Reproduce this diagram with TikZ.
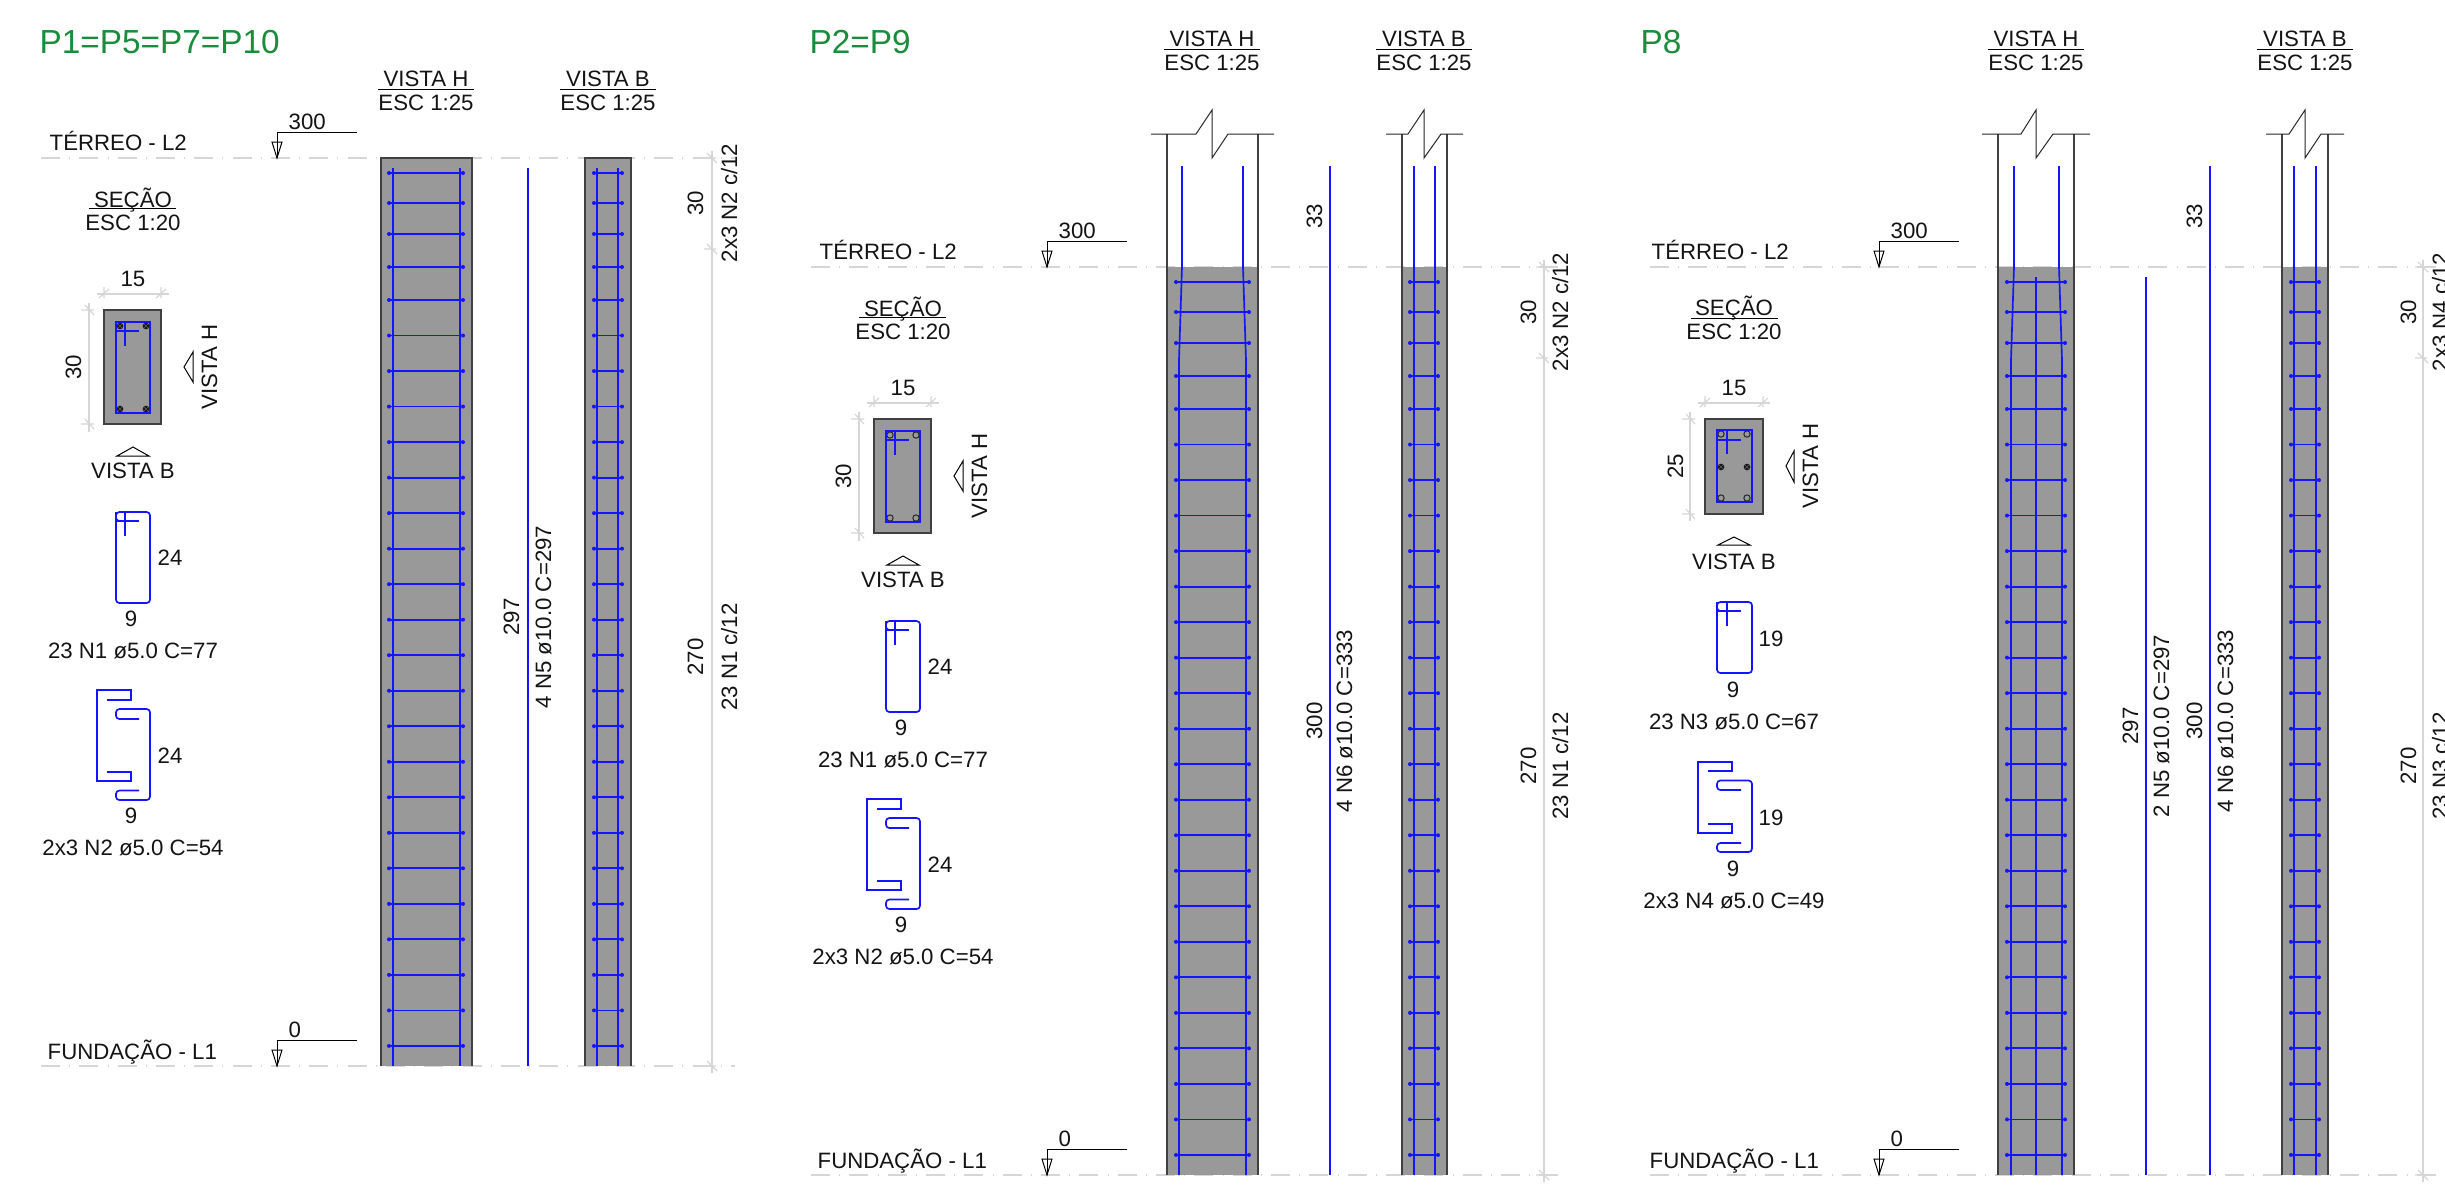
\documentclass[tikz,border=0pt]{standalone}
\usepackage{fontspec}
\setmainfont{Liberation Sans}
\newcommand{\lbfont}{\fontsize{6.67}{8}\selectfont}
\newcommand{\ttfontp}{\fontsize{10}{12}\selectfont}
\definecolor{conc}{HTML}{999999}
\definecolor{rebarblue}{HTML}{1414FF}
\definecolor{titlegreen}{HTML}{1A8C3C}
\definecolor{dimgray}{HTML}{D6D6D6}
\definecolor{edgegray}{HTML}{404040}
\tikzset{
  lbl/.style={anchor=base,inner sep=0pt,font=\lbfont,text=black!92},
  lblw/.style={anchor=base west,inner sep=0pt,font=\lbfont,text=black!92},
  vlbl/.style={anchor=base,inner sep=0pt,font=\lbfont,rotate=90,text=black!92},
  ptitle/.style={anchor=base west,inner sep=0pt,font=\ttfontp,text=titlegreen},
  rebar/.style={draw=rebarblue,line width=0.5pt},
  rebarthin/.style={draw=rebarblue,line width=0.42pt},
  stirr/.style={draw=rebarblue,line width=0.55pt},
  shapebar/.style={draw=rebarblue,line width=0.5pt},
  edge/.style={draw=edgegray,line width=0.42pt},
  thinblk/.style={draw=black,line width=0.3pt},
  dimln/.style={draw=dimgray,line width=0.35pt},
  levelln/.style={draw=dimgray,line width=0.4pt,dash pattern=on 5.7pt off 2.75pt on 0.3pt off 2.75pt},
}
\newcommand{\TickV}[2]{\draw[dimln] (#1-8,#2)--(#1+5,#2) (#1-4,#2-5)--(#1+5,#2+5);}
\newcommand{\TickH}[2]{\draw[dimln] (#1,#2-7)--(#1,#2+4) (#1-5,#2+4)--(#1+5,#2-5);}
\newcommand{\TickS}[2]{\draw[dimln] (#1-8,#2)--(#1+4,#2) (#1-5,#2-5)--(#1+5,#2+5);}
\newcommand{\Stirrups}[2]{%
  \foreach \yy in {173,203,234,267}{\draw[stirr] (#1,\yy)--(#2,\yy);
    \fill[rebarblue] (#1,\yy) circle (0.6pt) (#2,\yy) circle (0.6pt);}
  \foreach \k in {0,...,21}{\pgfmathsetmacro\yy{300+35.52*\k}
    \draw[stirr] (#1,\yy)--(#2,\yy);
    \fill[rebarblue] (#1,\yy) circle (0.6pt) (#2,\yy) circle (0.6pt);}}
\newcommand{\LevelMark}[3]{%
  \draw[thinblk,fill=white] (#1-5,#3+10)--(#1+5,#3+10)--(#1,#2)--cycle;
  \draw[thinblk] (#1,#2)--(#1,#3)--(#1+80,#3);}
\newcommand{\OpenBar}[2]{\draw[black!85,line width=0.3pt] (#1,#2) circle (0.95pt);}
\newcommand{\HatchBar}[2]{%
  \fill[black!90] (#1,#2) circle (1pt);
  \draw[black!45,line width=0.08pt] (#1-2,#2-2)--(#1+2,#2+2) (#1-2,#2+2)--(#1+2,#2-2);}
\newcommand{\BlockA}[1]{%
  \node[lbl] (secT) at (133,207) {SEÇÃO};
  \draw[thinblk] (89,208.5)--(176,208.5);
  \node[lbl] (secE) at (133,230) {ESC 1:20};
  \node[lbl] (w15) at (133,286) {15};
  \draw[dimln] (97,294)--(169,294); \TickH{104}{294}\TickH{161}{294}
  \node[vlbl] (h30) at (81,367) {30};
  \draw[dimln] (89,303)--(89,432); \TickV{89}{310}\TickV{89}{424}
  \draw[edge,fill=conc] (104,310) rectangle (161,424);
  #1
  \draw[rebarblue,line width=0.42pt] (116,322) rectangle (150,413) (116,331)--(139,331) (125,322)--(125,346);
  \node[vlbl] (vh) at (217,367) {VISTA H};
  \draw[thinblk] (193,352)--(184,367)--(193,382)--cycle;
  \draw[thinblk] (117,456)--(133,447)--(149,456)--cycle;
  \node[lbl] (vb) at (133,478) {VISTA B};
  \draw[shapebar] (125,536)--(125,512) (116,521)--(139,521);
  \draw[shapebar,rounded corners=1pt] (116,512) rectangle (150,603);
  \draw[shapebar,rounded corners=1pt] (116,512)--(116,521)--(125,521);
  \node[lblw] (d24a) at (157,565) {24};
  \node[lbl] (d9a) at (131,626) {9};
  \node[lbl] (n1) at (133,658) {23 N1 ø5.0 C=77};
  \draw[shapebar] (107,700)--(131,700)--(131,690)--(97,690)--(97,781)--(131,781)--(131,772)--(107,772);
  \draw[shapebar,rounded corners=1pt] (139,719)--(116,719)--(116,709)--(150,709)--(150,800)--(116,800)--(116,790.5)--(139,790.5);
  \node[lblw] (d24b) at (157,763) {24};
  \node[lbl] (d9b) at (131,823) {9};
  \node[lbl] (n2) at (133,855) {2x3 N2 ø5.0 C=54};
}
\newcommand{\LevelLabels}{%
  \node[lblw] (terreo) at (49,150) {TÉRREO - L2};
  \node[lblw] (l300) at (288,129) {300};
  \node[lblw] (fund) at (47,1059) {FUNDAÇÃO - L1};
  \node[lblw] (l0) at (288,1037) {0};
  \LevelMark{277}{158}{132}
  \LevelMark{277}{1066}{1040}
}
\newcommand{\ViewTitle}[4]{%
  \node[lbl] (#3a) at (#1,#2) {#4};
  \draw[thinblk] (#1-48,#2+3)--(#1+48,#2+3);
  \node[lbl] (#3b) at (#1,#2+24) {ESC 1:25};}
\newcommand{\BreakLine}[5]{%
  \draw[draw=black!85,line width=0.3pt] (#1,134)--(#2,134)--(#3,110)--(#3,158)--(#4,134)--(#5,134);}
\begin{document}
\begin{tikzpicture}[x=0.3pt,y=-0.3pt]
\useasboundingbox (0,0) rectangle (2445,1185);
\fill[white] (0,0) rectangle (2445,1185);

\draw[levelln] (41,158)--(735,158);
\draw[levelln] (41,1066)--(735,1066);
\draw[levelln] (811,267)--(1565,267);
\draw[levelln] (811,1175)--(1567,1175);
\draw[levelln] (1650,267)--(2445,267);
\draw[levelln] (1650,1175)--(2445,1175);

\node[ptitle] (t1) at (39,53) {P1=P5=P7=P10};
\begin{scope}[name prefix=a-]
\LevelLabels
\BlockA{\HatchBar{120}{326}\HatchBar{146}{326}\HatchBar{120}{409}\HatchBar{146}{409}}
\ViewTitle{426}{86}{vh}{VISTA H}
\ViewTitle{608}{86}{vb}{VISTA B}
\fill[conc] (381,158) rectangle (472,1066);
\draw[edge] (381,1066)--(381,158)--(472,158)--(472,1066);
\draw[rebar] (393,168)--(393,1066) (460,168)--(460,1066);
\Stirrups{389}{463}
\fill[conc] (585,158) rectangle (631,1066);
\draw[edge] (585,1066)--(585,158)--(631,158)--(631,1066);
\draw[rebar] (597,168)--(597,1066) (618,168)--(618,1066);
\Stirrups{594}{622}
\draw[rebarthin] (528,168)--(528,1066);
\node[vlbl] (d297) at (519,617) {297};
\node[vlbl] (n5) at (551,617) {4 N5 ø10.0 C=297};
\draw[dimln] (712,151)--(712,1073);
\TickS{712}{158}\TickS{712}{249}\TickS{712}{1066}
\node[vlbl] (d30) at (703,203) {30};
\node[vlbl] (n2v) at (737,203) {2x3 N2 c/12};
\node[vlbl] (d270) at (703,657) {270};
\node[vlbl] (n1v) at (737,657) {23 N1 c/12};
\end{scope}

\node[ptitle] (t2) at (809,53) {P2=P9};
\begin{scope}[shift={(770,109)},name prefix=b-]
\LevelLabels
\BlockA{\OpenBar{120}{326}\OpenBar{146}{326}\OpenBar{120}{409}\OpenBar{146}{409}}
\end{scope}
\begin{scope}[name prefix=b-]
\ViewTitle{1212}{46}{vh}{VISTA H}
\ViewTitle{1424}{46}{vb}{VISTA B}
\fill[conc] (1167,267) rectangle (1258,1175);
\draw[edge] (1167,134)--(1167,1175) (1258,134)--(1258,1175);
\BreakLine{1151}{1196}{1212}{1228}{1274}
\draw[rebar] (1182,166)--(1182,267)--(1179,360)--(1179,1175) (1243,166)--(1243,267)--(1246,360)--(1246,1175);
\begin{scope}[shift={(0,109)}]\Stirrups{1176}{1249}\end{scope}
\fill[conc] (1402,267) rectangle (1447,1175);
\draw[edge] (1402,134)--(1402,1175) (1447,134)--(1447,1175);
\BreakLine{1386}{1408}{1424}{1441}{1463}
\draw[rebar] (1414,166)--(1414,1175) (1435,166)--(1435,1175);
\begin{scope}[shift={(0,109)}]\Stirrups{1410}{1438}\end{scope}
\draw[rebarthin] (1330,166)--(1330,1175);
\node[vlbl] (d33) at (1322,216) {33};
\node[vlbl] (d300) at (1322,721) {300};
\node[vlbl] (n6) at (1352,721) {4 N6 ø10.0 C=333};
\draw[dimln] (1544,260)--(1544,1182);
\TickS{1544}{267}\TickS{1544}{358}\TickS{1544}{1175}
\node[vlbl] (d30) at (1536,312) {30};
\node[vlbl] (n2v) at (1568,312) {2x3 N2 c/12};
\node[vlbl] (d270) at (1536,766) {270};
\node[vlbl] (n1v) at (1568,766) {23 N1 c/12};
\end{scope}

\node[ptitle] (t3) at (1640,53) {P8};
\begin{scope}[shift={(1602,109)},name prefix=c-]
\LevelLabels
\end{scope}
\begin{scope}[name prefix=c-]
\node[lbl] (secT) at (1734,315) {SEÇÃO};
\draw[thinblk] (1691,318)--(1778,318);
\node[lbl] (secE) at (1734,339) {ESC 1:20};
\node[lbl] (w15) at (1734,395) {15};
\draw[dimln] (1698,403)--(1770,403); \TickH{1705}{403}\TickH{1763}{403}
\node[vlbl] (h25) at (1683,466) {25};
\draw[dimln] (1690,412)--(1690,521); \TickV{1690}{419}\TickV{1690}{514}
\draw[edge,fill=conc] (1705,419) rectangle (1763,514);
\OpenBar{1721}{434}\OpenBar{1747}{434}\OpenBar{1721}{498}\OpenBar{1747}{498}
\HatchBar{1721}{467}\HatchBar{1747}{467}
\draw[rebarblue,line width=0.42pt] (1717,430) rectangle (1752,502) (1717,440)--(1741,440) (1727,430)--(1727,454);
\node[vlbl] (vh) at (1818,466) {VISTA H};
\draw[thinblk] (1794,451)--(1786,466)--(1794,482)--cycle;
\draw[thinblk] (1718,545)--(1734,537)--(1750,545)--cycle;
\node[lbl] (vb) at (1734,569) {VISTA B};
\draw[shapebar] (1727,626)--(1727,602) (1717,611)--(1741,611);
\draw[shapebar,rounded corners=1pt] (1717,602) rectangle (1752,673);
\draw[shapebar,rounded corners=1pt] (1717,602)--(1717,611)--(1727,611);
\node[lblw] (d19a) at (1758,646) {19};
\node[lbl] (d9a) at (1733,697) {9};
\node[lbl] (n3) at (1734,729) {23 N3 ø5.0 C=67};
\draw[shapebar] (1708,771)--(1732,771)--(1732,762)--(1698,762)--(1698,833)--(1732,833)--(1732,824)--(1708,824);
\draw[shapebar,rounded corners=1pt] (1741,790)--(1717,790)--(1717,780.5)--(1752,780.5)--(1752,852)--(1717,852)--(1717,843)--(1741,843);
\node[lblw] (d19b) at (1758,825) {19};
\node[lbl] (d9b) at (1733,876) {9};
\node[lbl] (n4) at (1734,908) {2x3 N4 ø5.0 C=49};
\ViewTitle{2036}{46}{vh}{VISTA H}
\ViewTitle{2305}{46}{vb}{VISTA B}
\fill[conc] (1998,267) rectangle (2074,1175);
\draw[edge] (1998,134)--(1998,1175) (2074,134)--(2074,1175);
\BreakLine{1982}{2021}{2036}{2053}{2090}
\draw[rebar] (2014,166)--(2014,267)--(2011,360)--(2011,1175) (2059,166)--(2059,267)--(2062,360)--(2062,1175);
\draw[rebarthin] (2036,277)--(2036,1175);
\begin{scope}[shift={(0,109)}]\Stirrups{2007}{2065}\end{scope}
\fill[conc] (2282,267) rectangle (2328,1175);
\draw[edge] (2282,134)--(2282,1175) (2328,134)--(2328,1175);
\BreakLine{2266}{2289}{2305}{2321}{2344}
\draw[rebar] (2294,166)--(2294,1175) (2316,166)--(2316,1175);
\begin{scope}[shift={(0,109)}]\Stirrups{2291}{2319}\end{scope}
\draw[rebarthin] (2146,277)--(2146,1175);
\draw[rebarthin] (2210,166)--(2210,1175);
\node[vlbl] (d33) at (2202,216) {33};
\node[vlbl] (d297) at (2138,726) {297};
\node[vlbl] (n5) at (2169,726) {2 N5 ø10.0 C=297};
\node[vlbl] (d300) at (2202,721) {300};
\node[vlbl] (n6) at (2233,721) {4 N6 ø10.0 C=333};
\draw[dimln] (2423,260)--(2423,1182);
\TickS{2423}{267}\TickS{2423}{358}\TickS{2423}{1175}
\node[vlbl] (d30) at (2416,312) {30};
\node[vlbl] (n4v) at (2448,312) {2x3 N4 c/12};
\node[vlbl] (d270) at (2416,766) {270};
\node[vlbl] (n3v) at (2448,766) {23 N3 c/12};
\end{scope}
\end{tikzpicture}
\end{document}
